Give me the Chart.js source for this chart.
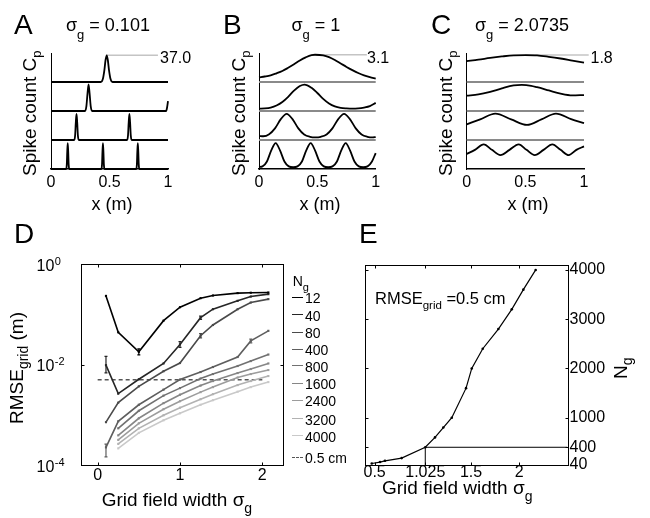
<!DOCTYPE html>
<html>
<head>
<meta charset="utf-8">
<script src="https://cdn.jsdelivr.net/npm/chart.js@4.4.1/dist/chart.umd.min.js"></script>
<style>
body { margin: 0; background: #fff; }
#fig { position: relative; width: 650px; height: 518px; overflow: hidden; font-family: "Liberation Sans", Arial, Helvetica, sans-serif; color: #000; }
#fig canvas { position: absolute; left: 0; top: 0; }
.t { position: absolute; white-space: nowrap; line-height: 1; }
.rot { transform: rotate(-90deg); transform-origin: 0 0; }
.sub { position: relative; }
.sw { position: absolute; height: 0; }
</style>
</head>
<body>
<div id="fig">
  <canvas id="cA" width="650" height="518"></canvas>
  <canvas id="cB" width="650" height="518"></canvas>
  <canvas id="cC" width="650" height="518"></canvas>
  <canvas id="cD" width="650" height="518"></canvas>
  <canvas id="cE" width="650" height="518"></canvas>
</div>
<script>
// ---- panels A-C: spike count per row, as a fraction of the row height ----
var xTicksABC = [0, 0.5, 1];

var A1 = [[0,0],[0.426,0],[0.443,0.1],[0.456,0.4],[0.466,0.75],[0.476,0.92],[0.486,0.75],[0.496,0.4],[0.509,0.1],[0.526,0],[1,0]];
var A2 = [[0,0],[0.291,0],[0.302,0.15],[0.312,0.6],[0.321,0.92],[0.33,0.6],[0.34,0.15],[0.351,0],[0.984,0],[0.992,0.12],[1,0.34]];
var A3 = [[0,0],[0.198,0],[0.206,0.15],[0.212,0.6],[0.218,0.9],[0.224,0.6],[0.23,0.15],[0.238,0],[0.65,0],[0.658,0.15],[0.664,0.6],[0.67,0.9],[0.676,0.6],[0.682,0.15],[0.69,0],[1,0]];
var A4 = [[0,0],[0.129,0],[0.135,0.15],[0.139,0.6],[0.143,0.89],[0.147,0.6],[0.151,0.15],[0.157,0],[0.43,0],[0.436,0.15],[0.44,0.6],[0.444,0.89],[0.448,0.6],[0.452,0.15],[0.458,0],[0.728,0],[0.734,0.15],[0.738,0.6],[0.742,0.89],[0.746,0.6],[0.75,0.15],[0.756,0],[1,0]];

var B1 = [[0,.16],[.05,.19],[.1,.23],[.15,.30],[.2,.38],[.25,.49],[.3,.61],[.35,.74],[.4,.85],[.45,.93],[.48,.94],[.55,.92],[.6,.86],[.65,.76],[.7,.64],[.75,.52],[.8,.41],[.85,.31],[.9,.23],[.95,.17],[1,.12]];
var B2 = [[0,.08],[.05,.09],[.1,.12],[.15,.19],[.2,.31],[.25,.49],[.3,.70],[.35,.86],[.39,.91],[.45,.80],[.5,.62],[.55,.42],[.6,.26],[.65,.16],[.7,.11],[.75,.09],[.8,.08],[.85,.09],[.9,.12],[.95,.17],[1,.28]];
var B3 = [[0,.14],[.037,.13],[.087,.2],[.137,.4],[.187,.72],[.237,.9],[.287,.72],[.337,.4],[.387,.19],[.437,.11],[.483,.09],[.529,.11],[.579,.19],[.629,.4],[.679,.72],[.729,.9],[.779,.72],[.829,.4],[.879,.19],[.929,.11],[.975,.09],[1,.1]];
var B4 = [[0,.07],[.03,.09],[.068,.26],[.105,.64],[.143,.89],[.18,.64],[.218,.26],[.255,.09],[.293,.06],[.33,.09],[.368,.26],[.405,.64],[.443,.89],[.48,.64],[.518,.26],[.555,.09],[.593,.06],[.63,.09],[.668,.26],[.705,.64],[.743,.89],[.78,.64],[.818,.26],[.855,.09],[.893,.06],[.93,.09],[.968,.26],[1,.55]];

var C1 = [[0,.72],[.1,.77],[.2,.83],[.3,.88],[.4,.92],[.5,.93],[.6,.92],[.7,.87],[.8,.81],[.9,.74],[1,.67]];
var C2 = [[0,.53],[.1,.57],[.2,.66],[.3,.78],[.4,.88],[.47,.90],[.55,.87],[.6,.82],[.7,.71],[.8,.60],[.9,.54],[1,.55]];
var C3 = [[0,.54],[.115,.71],[.244,.91],[.379,.71],[.514,.52],[.637,.71],[.761,.91],[.89,.72],[1,.58]];
var C4 = [[0,.52],[.07,.66],[.145,.85],[.215,.66],[.287,.48],[.365,.66],[.443,.85],[.51,.66],[.58,.48],[.655,.66],[.73,.85],[.80,.66],[.87,.48],[.935,.66],[1,.78]];

var peakLabels = ["37.0", "3.1", "1.8"];
var refEnds = [0.914, 0.924, 1.04];

// ---- panel D: RMSE_grid (m) against grid field width ----
var sigmaD = [0.101, 0.25, 0.5, 0.8, 1.0, 1.25, 1.4, 1.7, 1.86, 2.0735];
var ngLabels = ["12", "40", "80", "400", "800", "1600", "2400", "3200", "4000"];
var rmse12   = [0.232, 0.0437, 0.0179, 0.0745, 0.138, 0.209, 0.236, 0.263, 0.268, 0.271];
var rmse40   = [0.0097, 0.00263, 0.00508, 0.0105, 0.0251, 0.0855, 0.126, 0.185, 0.225, 0.251];
var rmse80   = [0.000711, 0.00174, 0.00368, 0.00735, 0.0107, 0.0373, 0.0611, 0.126, 0.171, 0.200];
var rmse400  = [0.000224, 0.000741, 0.00158, 0.00316, 0.00501, 0.00708, 0.00891, 0.0141, 0.0295, 0.0468];
var rmse800  = [null, 0.000537, 0.00120, 0.00240, 0.00339, 0.00525, 0.00646, 0.00933, 0.0117, 0.0158];
var rmse1600 = [null, 0.000389, 0.000851, 0.00170, 0.00251, 0.00380, 0.00468, 0.00676, 0.00813, 0.0105];
var rmse2400 = [null, 0.000316, 0.000676, 0.00129, 0.00186, 0.00282, 0.00355, 0.00550, 0.00646, 0.00776];
var rmse3200 = [null, 0.000263, 0.000537, 0.000977, 0.00138, 0.00204, 0.00257, 0.00389, 0.00468, 0.00589];
var rmse4000 = [null, 0.000214, 0.000437, 0.000776, 0.00107, 0.00158, 0.00195, 0.00288, 0.00355, 0.00447];
// [series, sigma, low, high]
var errD = [[0, 0.5, 0.0155, 0.0205], [1, 0.101, 0.0068, 0.0145], [1, 1.0, 0.022, 0.0285], [1, 1.25, 0.079, 0.092],
            [2, 1.25, 0.034, 0.041], [3, 0.101, 0.000145, 0.00026], [3, 1.86, 0.027, 0.032]];
var targetRmse = 0.005;
var xTicksD = [0, 1, 2];
var yTicksD = [1, 1e-2, 1e-4];

// ---- panel E: cells needed for RMSE_grid = 0.5 cm ----
var sigmaE = [0.47, 0.556, 0.607, 0.78, 1.025, 1.126, 1.212, 1.30, 1.448, 1.507, 1.621, 1.783, 1.922, 2.042, 2.17];
var ngE    = [70, 100, 125, 180, 400, 600, 800, 1000, 1600, 2000, 2400, 2800, 3200, 3600, 4000];
var targetSigma = 1.025, targetN = 400;
var xTicksE = [0.5, 1.025, 1.5, 2];
var yTicksE = [40, 400, 1000, 2000, 3000, 4000];

var FONT = '"Liberation Sans", Arial, Helvetica, sans-serif';
var greysD = ["#000000", "#262626", "#4a4a4a", "#5e5e5e", "#717171", "#868686", "#9c9c9c", "#b2b2b2", "#c9c9c9"];
var XH = 40, YW = 60;   // room kept for tick labels (labels are clipped to the scale box)

Chart.defaults.font.family = FONT;
Chart.defaults.color = "#000";

function fixTicks(vals) { return function(s) { s.ticks = vals.map(function(v) { return { value: v }; }); }; }

// box = [left, top, right, bottom] of the plot area in page pixels
function baseOptions(box, rightAxis) {
    return {
        responsive: false, animation: false, events: [], devicePixelRatio: 1,
        layout: { padding: { left: box[0], top: box[1], right: 650 - box[2] - (rightAxis ? YW : 0), bottom: 518 - box[3] - XH } },
        plugins: { legend: { display: false }, tooltip: { enabled: false } }
    };
}

// draws the closed box and inward ticks (matlab style)
function frame(xt, yt) {
    return {
        id: "frame",
        afterDatasetsDraw: function(chart) {
            var a = chart.chartArea, c = chart.ctx, sx = chart.scales.x, sy = chart.scales.y;
            var l = Math.round(a.left) + 0.5, r = Math.round(a.right) + 0.5, t = Math.round(a.top) + 0.5, b = Math.round(a.bottom) + 0.5;
            c.save();
            c.strokeStyle = "#000"; c.lineWidth = 1;
            c.strokeRect(l, t, r - l, b - t);
            c.beginPath();
            xt.forEach(function(v) {
                var p = Math.round(sx.getPixelForValue(v)) + 0.5;
                c.moveTo(p, b); c.lineTo(p, b - 3); c.moveTo(p, t); c.lineTo(p, t + 3);
            });
            yt.forEach(function(v) {
                var p = Math.round(sy.getPixelForValue(v)) + 0.5;
                c.moveTo(l, p); c.lineTo(l + 3, p); c.moveTo(r, p); c.lineTo(r - 3, p);
            });
            c.stroke();
            c.restore();
        }
    };
}

function xAxis(min, max, ticks, padding, border) {
    return {
        type: "linear", min: min, max: max,
        afterFit: function(s) { s.height = XH; }, afterBuildTicks: fixTicks(ticks),
        grid: { display: false, drawTicks: false },
        border: border ? { display: true, color: "#000", width: 1.5 } : { display: false },
        ticks: { padding: padding, autoSkip: false, maxRotation: 0, font: { size: 16 }, callback: function(v) { return String(v); } }
    };
}

function stackChart(id, rows, box, gray, refEnd) {
    var ds = [];
    var pk = rows[0].reduce(function(m, p) { return p[1] > m[1] ? p : m; });
    rows.forEach(function(r, i) {
        var base = rows.length - 1 - i;
        ds.push({
            data: r.map(function(p) { return { x: p[0], y: base + p[1] }; }),
            borderColor: "#000", borderWidth: 1.8, pointRadius: 0,
            cubicInterpolationMode: "monotone", clip: false
        });
    });
    ds.push({
        data: [{ x: pk[0], y: 3 + pk[1] }, { x: refEnd, y: 3 + pk[1] }],
        borderColor: "#c4c4c4", borderWidth: 1.5, pointRadius: 0, clip: false
    });
    if (gray) {
        [1, 2, 3].forEach(function(b) {
            ds.push({ data: [{ x: 0, y: b }, { x: 1, y: b }], borderColor: "#8a8a8a", borderWidth: 2, pointRadius: 0, clip: false });
        });
    }
    var o = baseOptions(box, false);
    o.scales = {
        x: xAxis(0, 1, xTicksABC, 3.5, true),
        y: {
            type: "linear", min: 0, max: 4,
            afterFit: function(s) { s.width = 0; },
            grid: { display: false, drawTicks: false },
            border: { display: true, color: "#000", width: 1 },
            ticks: { display: false }
        }
    };
    return new Chart(document.getElementById(id), { type: "line", data: { datasets: ds }, options: o });
}

stackChart("cA", [A1, A2, A3, A4], [51, 53, 168, 169], false, refEnds[0]);
stackChart("cB", [B1, B2, B3, B4], [259, 53, 375.7, 169], true, refEnds[1]);
stackChart("cC", [C1, C2, C3, C4], [466.7, 53, 584, 169], true, refEnds[2]);

// ---- D ----
(function() {
    var series = [rmse12, rmse40, rmse80, rmse400, rmse800, rmse1600, rmse2400, rmse3200, rmse4000];
    var ds = series.map(function(vals, i) {
        return {
            data: sigmaD.map(function(s, j) { return { x: s, y: vals[j] }; }).filter(function(p) { return p.y != null; }),
            borderColor: greysD[i], backgroundColor: greysD[i], borderWidth: 1.6,
            pointRadius: 1.5, pointStyle: "rect", pointBorderWidth: 0, clip: false
        };
    });
    ds.push({
        data: [{ x: 0, y: targetRmse }, { x: 2, y: targetRmse }],
        borderColor: "#555", borderDash: [4, 3], borderWidth: 1.5, pointRadius: 0
    });

    var errBars = {
        id: "errBars",
        afterDatasetsDraw: function(chart) {
            var c = chart.ctx, sx = chart.scales.x, sy = chart.scales.y;
            c.save(); c.lineWidth = 1.2;
            errD.forEach(function(e) {
                var x = sx.getPixelForValue(e[1]), y1 = sy.getPixelForValue(e[2]), y2 = sy.getPixelForValue(e[3]);
                c.strokeStyle = greysD[e[0]];
                c.beginPath();
                c.moveTo(x, y1); c.lineTo(x, y2);
                c.moveTo(x - 1.5, y1); c.lineTo(x + 1.5, y1);
                c.moveTo(x - 1.5, y2); c.lineTo(x + 1.5, y2);
                c.stroke();
            });
            c.restore();
        }
    };
    var logLabels = {
        id: "logLabels",
        afterDraw: function(chart) {
            var c = chart.ctx, sy = chart.scales.y, exps = ["0", "-2", "-4"];
            c.save(); c.fillStyle = "#000"; c.textBaseline = "alphabetic"; c.textAlign = "left";
            yTicksD.forEach(function(v, i) {
                var p = sy.getPixelForValue(v);
                c.font = "16px " + FONT;
                c.fillText("10", 36.5, p + 6.5);
                var w = c.measureText("10").width;
                c.font = "11px " + FONT;
                c.fillText(exps[i], 36.5 + w + 0.5, p + 0.5);
            });
            c.restore();
        }
    };

    var o = baseOptions([81.2, 264, 282.9, 465], false);
    o.scales = {
        x: xAxis(-0.2, 2.25, xTicksD, 1, false),
        y: {
            type: "logarithmic", min: 1e-4, max: 1,
            afterFit: function(s) { s.width = 0; },
            grid: { display: false, drawTicks: false }, border: { display: false },
            ticks: { display: false }
        }
    };
    new Chart(document.getElementById("cD"), {
        type: "line", data: { datasets: ds }, options: o,
        plugins: [frame(xTicksD, yTicksD), errBars, logLabels]
    });
})();

// ---- E ----
(function() {
    var ds = [{
        data: sigmaE.map(function(s, i) { return { x: s, y: ngE[i] }; }),
        borderColor: "#000", backgroundColor: "#000", borderWidth: 1.2,
        pointRadius: 1.3, pointBorderWidth: 0, clip: false
    }, {
        data: [{ x: targetSigma, y: yTicksE[0] }, { x: targetSigma, y: targetN }, { x: 2.5, y: targetN }],
        borderColor: "#000", borderWidth: 1, pointRadius: 0
    }];
    var o = baseOptions([365, 265, 567.5, 465], true);
    o.scales = {
        x: xAxis(0.4, 2.5, xTicksE, -2.5, false),
        y: {
            type: "linear", position: "right", min: 40, max: 4100,
            afterFit: function(s) { s.width = YW; }, afterBuildTicks: fixTicks(yTicksE),
            grid: { display: false, drawTicks: false }, border: { display: false },
            ticks: { padding: 2, autoSkip: false, font: { size: 16 }, callback: function(v) { return String(v); } }
        }
    };
    new Chart(document.getElementById("cE"), {
        type: "line", data: { datasets: ds }, options: o, plugins: [frame(xTicksE, yTicksE)]
    });
})();

// ---- text ----
var fig = document.getElementById("fig");
function sub(s, size, dy) { return '<span class="sub" style="font-size:' + size + 'px;top:' + dy + 'px">' + s + '</span>'; }
function txt(html, x, base, size, align) {
    var d = document.createElement("div");
    d.className = "t";
    d.style.fontSize = size + "px";
    d.style.top = (base - 0.8465 * size) + "px";
    if (align === "center") { d.style.left = (x - 100) + "px"; d.style.width = "200px"; d.style.textAlign = "center"; }
    else d.style.left = x + "px";
    d.innerHTML = html;
    fig.appendChild(d);
}
// rotated -90deg: base = x of the baseline, y0 = where the text starts (bottom)
function rtxt(html, base, y0, size) {
    var d = document.createElement("div");
    d.className = "t rot";
    d.style.fontSize = size + "px";
    d.style.left = (base - 0.8465 * size) + "px";
    d.style.top = y0 + "px";
    d.innerHTML = html;
    fig.appendChild(d);
}
function swatch(x, y, w, color, dashed) {
    var d = document.createElement("div");
    d.className = "sw";
    d.style.left = x + "px"; d.style.top = (y - 0.75) + "px"; d.style.width = w + "px";
    d.style.borderTop = "1.5px " + (dashed ? "dashed " : "solid ") + color;
    fig.appendChild(d);
}

var sg = "&sigma;" + sub("g", 13, 8);
txt("A", 14, 35, 28); txt("B", 223, 35, 28); txt("C", 431, 35, 28);
txt("D", 14, 243.3, 28); txt("E", 359, 243.3, 28);
txt(sg + " = 0.101", 66, 31.7, 18);
txt(sg + " = 1", 291.5, 31.7, 18);
txt(sg + " = 2.0735", 475, 31.7, 18);
txt(peakLabels[0], 160, 63.5, 16);
txt(peakLabels[1], 367, 63.5, 16);
txt(peakLabels[2], 590.5, 63.5, 16);
[[36, 112], [245, 320], [451.7, 528]].forEach(function(p) {
    rtxt("Spike count C" + sub("p", 13, 5), p[0], 176, 19);
    txt("x (m)", p[1], 210, 18, "center");
});

rtxt("RMSE" + sub("grid", 14, 5) + " (m)", 23.3, 424, 19);
txt("Grid field width &sigma;" + sub("g", 14, 7), 101.7, 506.5, 19);
txt("Grid field width &sigma;" + sub("g", 14, 7), 382, 494, 19);
rtxt("N" + sub("g", 14, 5), 627, 379, 19);
txt("RMSE" + sub("grid", 11.5, 5) + " =0.5 cm", 375, 304, 16.5);

// legend D
txt("N" + sub("g", 11, 5), 292.7, 286, 14);
var legY = [297.3, 315, 332.3, 349.3, 366, 383.3, 400.7, 419, 436];
ngLabels.forEach(function(lab, i) {
    swatch(291.7, legY[i], 11.6, greysD[i], false);
    txt(lab, 305, legY[i] + 5.4, 14);
});
swatch(291.7, 457.3, 11.6, "#555", true);
txt("0.5 cm", 305, 457.3 + 5.4, 14);
</script>
</body>
</html>
